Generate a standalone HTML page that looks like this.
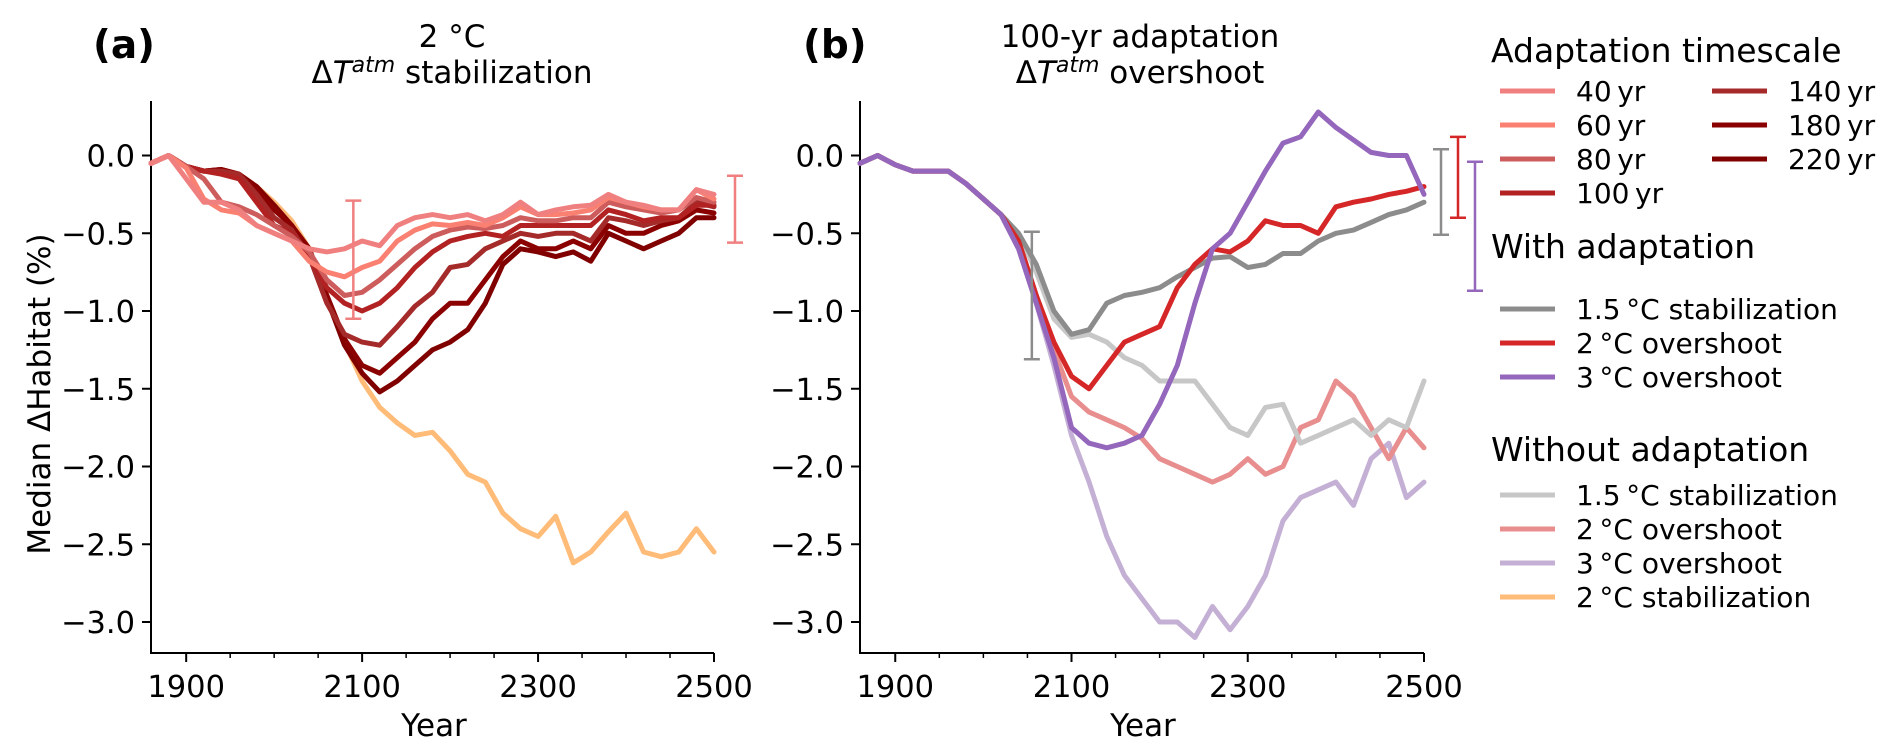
<!DOCTYPE html>
<html><head><meta charset="utf-8"><style>
html,body{margin:0;padding:0;background:#fff;}
svg{display:block;font-family:"DejaVu Sans","Liberation Sans",sans-serif;}
</style></head><body>
<svg id="chart" width="1892" height="753" viewBox="0 0 1892 753" xmlns="http://www.w3.org/2000/svg">
<text x="93" y="58" font-size="39" font-weight="bold">(a)</text>
<text x="452" y="47" font-size="31" text-anchor="middle">2 °C</text>
<text x="452" y="83" font-size="31" text-anchor="middle">Δ<tspan font-style="italic">T</tspan><tspan font-style="italic" dy="-11" font-size="22">atm</tspan><tspan dy="11"> stabilization</tspan></text>
<text x="803" y="58" font-size="39" font-weight="bold">(b)</text>
<text x="1140" y="47" font-size="31" text-anchor="middle">100-yr adaptation</text>
<text x="1140" y="83" font-size="31" text-anchor="middle">Δ<tspan font-style="italic">T</tspan><tspan font-style="italic" dy="-11" font-size="22">atm</tspan><tspan dy="11"> overshoot</tspan></text>
<text transform="translate(50,394) rotate(-90)" font-size="31" text-anchor="middle">Median ΔHabitat (%)</text>
<text x="434" y="736" font-size="31" text-anchor="middle">Year</text>
<text x="1143" y="736" font-size="31" text-anchor="middle">Year</text>
<g id="pa"></g>
<g id="pb"></g>
<g id="legend"></g>
</svg>
<script>
const years = [1860,1880,1900,1920,1940,1960,1980,2000,2020,2040,2060,2080,2100,2120,2140,2160,2180,2200,2220,2240,2260,2280,2300,2320,2340,2360,2380,2400,2420,2440,2460,2480,2500];
const yTicks = [0.0,-0.5,-1.0,-1.5,-2.0,-2.5,-3.0];
const yTickLabels = ["0.0","\u22120.5","\u22121.0","\u22121.5","\u22122.0","\u22122.5","\u22123.0"];
const xMajor = [1900,2100,2300,2500];
const xMinor = [1950,2000,2050,2150,2200,2250,2350,2400,2450];
// Panel a
const stab2NoAdapt = [-0.05,0.0,-0.07,-0.1,-0.09,-0.12,-0.2,-0.3,-0.42,-0.6,-0.9,-1.2,-1.45,-1.62,-1.72,-1.8,-1.78,-1.9,-2.05,-2.1,-2.3,-2.4,-2.45,-2.32,-2.62,-2.55,-2.42,-2.3,-2.55,-2.58,-2.55,-2.4,-2.55];
const adapt220 = [-0.05,0.0,-0.07,-0.1,-0.09,-0.12,-0.2,-0.32,-0.45,-0.62,-0.92,-1.22,-1.4,-1.52,-1.45,-1.35,-1.25,-1.2,-1.12,-0.95,-0.7,-0.6,-0.62,-0.65,-0.62,-0.68,-0.5,-0.55,-0.6,-0.55,-0.5,-0.4,-0.4];
const adapt180 = [-0.05,0.0,-0.07,-0.1,-0.09,-0.12,-0.22,-0.35,-0.45,-0.6,-0.9,-1.18,-1.35,-1.4,-1.3,-1.2,-1.05,-0.95,-0.95,-0.8,-0.65,-0.55,-0.6,-0.6,-0.55,-0.6,-0.45,-0.5,-0.5,-0.45,-0.42,-0.35,-0.37];
const adapt140 = [-0.05,0.0,-0.07,-0.1,-0.1,-0.12,-0.25,-0.4,-0.48,-0.65,-0.95,-1.15,-1.2,-1.22,-1.1,-0.97,-0.88,-0.72,-0.7,-0.6,-0.55,-0.5,-0.52,-0.5,-0.5,-0.55,-0.4,-0.42,-0.45,-0.42,-0.4,-0.3,-0.33];
const adapt100 = [-0.05,0.0,-0.07,-0.1,-0.12,-0.15,-0.3,-0.45,-0.5,-0.65,-0.85,-0.95,-1.0,-0.95,-0.85,-0.72,-0.62,-0.55,-0.52,-0.5,-0.52,-0.45,-0.45,-0.45,-0.45,-0.45,-0.35,-0.38,-0.42,-0.4,-0.4,-0.32,-0.32];
const adapt80 = [-0.05,0.0,-0.07,-0.15,-0.3,-0.33,-0.38,-0.45,-0.52,-0.62,-0.8,-0.9,-0.88,-0.8,-0.7,-0.6,-0.52,-0.48,-0.46,-0.47,-0.45,-0.4,-0.42,-0.42,-0.4,-0.4,-0.3,-0.33,-0.35,-0.37,-0.35,-0.27,-0.3];
const adapt60 = [-0.05,0.0,-0.08,-0.28,-0.35,-0.37,-0.45,-0.5,-0.55,-0.68,-0.75,-0.78,-0.72,-0.68,-0.55,-0.48,-0.44,-0.45,-0.43,-0.45,-0.4,-0.33,-0.38,-0.38,-0.37,-0.35,-0.27,-0.3,-0.33,-0.35,-0.35,-0.22,-0.28];
const adapt40 = [-0.05,0.0,-0.15,-0.3,-0.3,-0.35,-0.45,-0.5,-0.55,-0.6,-0.62,-0.6,-0.55,-0.58,-0.45,-0.4,-0.38,-0.4,-0.38,-0.42,-0.38,-0.3,-0.38,-0.35,-0.33,-0.32,-0.25,-0.3,-0.32,-0.35,-0.35,-0.22,-0.25];
// Panel b
const baseB = [-0.05,0.0,-0.06,-0.1,-0.1,-0.1,-0.18,-0.28];
const gray15Adapt = baseB.concat([-0.38,-0.5,-0.7,-1.0,-1.15,-1.12,-0.95,-0.9,-0.88,-0.85,-0.78,-0.72,-0.66,-0.65,-0.72,-0.7,-0.63,-0.63,-0.55,-0.5,-0.48,-0.43,-0.38,-0.35,-0.3]);
const red2Adapt = baseB.concat([-0.38,-0.55,-0.9,-1.2,-1.42,-1.5,-1.35,-1.2,-1.15,-1.1,-0.85,-0.7,-0.6,-0.62,-0.55,-0.42,-0.45,-0.45,-0.5,-0.33,-0.3,-0.28,-0.25,-0.23,-0.2]);
const purple3Adapt = baseB.concat([-0.38,-0.6,-0.95,-1.3,-1.75,-1.85,-1.88,-1.85,-1.8,-1.6,-1.35,-0.95,-0.6,-0.5,-0.3,-0.1,0.08,0.12,0.28,0.18,0.1,0.02,0.0,0.0,-0.25]);
const gray15No = baseB.concat([-0.38,-0.5,-0.75,-1.05,-1.17,-1.15,-1.2,-1.3,-1.35,-1.45,-1.45,-1.45,-1.6,-1.75,-1.8,-1.62,-1.6,-1.85,-1.8,-1.75,-1.7,-1.8,-1.7,-1.75,-1.45]);
const red2No = baseB.concat([-0.38,-0.55,-0.9,-1.25,-1.55,-1.65,-1.7,-1.75,-1.82,-1.95,-2.0,-2.05,-2.1,-2.05,-1.95,-2.05,-2.0,-1.75,-1.7,-1.45,-1.55,-1.75,-1.95,-1.75,-1.88]);
const purple3No = baseB.concat([-0.38,-0.6,-0.95,-1.35,-1.8,-2.1,-2.45,-2.7,-2.85,-3.0,-3.0,-3.1,-2.9,-3.05,-2.9,-2.7,-2.35,-2.2,-2.15,-2.1,-2.25,-1.95,-1.85,-2.2,-2.1]);
// error bars: [year, top, bottom]
const errA = [[2090,-0.29,-1.05]];
const errAEnd = [-0.13,-0.56];
const errB = [[2055,-0.49,-1.31]];
const errBEnd = [[0.04,-0.51],[0.12,-0.40],[-0.04,-0.87]];

const NS = "http://www.w3.org/2000/svg";
function mk(tag, attrs, parent){const e=document.createElementNS(NS,tag);for(const k in attrs)e.setAttribute(k,attrs[k]);parent.appendChild(e);return e;}

function panel(g, left, right){
  const top=101, bottom=653;
  const X = v => left + (v-1860)/(2500-1860)*(right-left);
  const Y = v => 155.5 + (0-v)*155.5;
  const ax = mk('path',{d:`M${left} ${top}V${bottom}H${right}`,fill:'none',stroke:'#000','stroke-width':2},g);
  
  
  yTicks.forEach((t,i)=>{
    const l=mk('line',{x1:left-9,x2:left,y1:Y(t),y2:Y(t),stroke:'#000','stroke-width':2},g);
    
    
    const tx=mk('text',{x:left-16,y:Y(t)+11,'font-size':30.5,'text-anchor':'end'},g);
    tx.textContent=yTickLabels[i];
    
    
  });
  xMajor.forEach(t=>{
    const l=mk('line',{x1:X(t),x2:X(t),y1:bottom,y2:bottom+9,stroke:'#000','stroke-width':2},g);
    
    
    const tx=mk('text',{x:X(t),y:bottom+44,'font-size':30.5,'text-anchor':'middle'},g);
    tx.textContent=String(t);
    
    
  });
  xMinor.forEach(t=>{
    const l=mk('line',{x1:X(t),x2:X(t),y1:bottom,y2:bottom+5,stroke:'#000','stroke-width':1.5},g);
    
    
  });
  return {X,Y};
}
function line(g, ax, vals, color, w, name){
  const d = vals.map((v,i)=>(i?'L':'M')+ax.X(years[i]).toFixed(1)+' '+ax.Y(v).toFixed(1)).join('');
  const p = mk('path',{d,fill:'none',stroke:color,'stroke-width':w,'stroke-linejoin':'round','stroke-linecap':'round'},g);
  
  
}
function errbar(g, x, y1, y2, color){
  const p=mk('path',{d:`M${x} ${y1}V${y2}M${x-8} ${y1}H${x+8}M${x-8} ${y2}H${x+8}`,fill:'none',stroke:color,'stroke-width':2.5},g);
  
  
}

const LW = 5;
const ga=document.getElementById('pa');
const a = panel(ga,151,714);
line(ga,a,stab2NoAdapt,'#ffbb78',LW,'line-2c-stabilization-no-adaptation');
line(ga,a,adapt220,'#800000',LW,'line-220yr');
line(ga,a,adapt180,'#8b0000',LW,'line-180yr');
line(ga,a,adapt140,'#a52a2a',LW,'line-140yr');
line(ga,a,adapt100,'#b22222',LW,'line-100yr');
line(ga,a,adapt80,'#cd5c5c',LW,'line-80yr');
line(ga,a,adapt60,'#fa8072',LW,'line-60yr');
line(ga,a,adapt40,'#f08080',LW,'line-40yr');
errA.forEach(e=>errbar(ga,a.X(e[0]),a.Y(e[1]),a.Y(e[2]),'#f08080'));
errbar(ga,735,a.Y(errAEnd[0]),a.Y(errAEnd[1]),'#f08080');

const gb=document.getElementById('pb');
const b = panel(gb,860,1424);
line(gb,b,purple3No,'#c5b0d5',LW,'line-3c-overshoot-no-adaptation');
line(gb,b,red2No,'#e88e8e',LW,'line-2c-overshoot-no-adaptation');
line(gb,b,gray15No,'#c7c7c7',LW,'line-1.5c-stabilization-no-adaptation');
line(gb,b,gray15Adapt,'#8c8c8c',LW,'line-1.5c-stabilization-adaptation');
line(gb,b,red2Adapt,'#d62728',LW,'line-2c-overshoot-adaptation');
line(gb,b,purple3Adapt,'#9467bd',LW,'line-3c-overshoot-adaptation');
errB.forEach(e=>errbar(gb,b.X(e[0]),b.Y(e[1]),b.Y(e[2]),'#8c8c8c'));
const endColors=['#8c8c8c','#d62728','#9467bd'];
errBEnd.forEach((e,i)=>errbar(gb,1441+i*17,b.Y(e[0]),b.Y(e[1]),endColors[i]));

const lg=document.getElementById('legend');
function ltitle(txt,y){const t=mk('text',{x:1491,y:y,'font-size':33},lg);t.textContent=txt;
  
  }
function lentry(txt,x,y,color){
  const l=mk('line',{x1:x,x2:x+55,y1:y,y2:y,stroke:color,'stroke-width':5},lg);
  
  
  const t=mk('text',{x:x+76,y:y+10,'font-size':28},lg);t.textContent=txt;
  
  
}
ltitle('Adaptation timescale',62);
lentry('40\u2009yr',1500,91,'#f08080');
lentry('60\u2009yr',1500,125,'#fa8072');
lentry('80\u2009yr',1500,159,'#cd5c5c');
lentry('100\u2009yr',1500,193,'#b22222');
lentry('140\u2009yr',1712,91,'#a52a2a');
lentry('180\u2009yr',1712,125,'#8b0000');
lentry('220\u2009yr',1712,159,'#800000');
ltitle('With adaptation',258);
lentry('1.5\u2009°C stabilization',1500,309,'#8c8c8c');
lentry('2\u2009°C overshoot',1500,343,'#d62728');
lentry('3\u2009°C overshoot',1500,377,'#9467bd');
ltitle('Without adaptation',461);
lentry('1.5\u2009°C stabilization',1500,495,'#c7c7c7');
lentry('2\u2009°C overshoot',1500,529,'#e88e8e');
lentry('3\u2009°C overshoot',1500,563,'#c5b0d5');
lentry('2\u2009°C stabilization',1500,597,'#ffbb78');
</script>
</body></html>
